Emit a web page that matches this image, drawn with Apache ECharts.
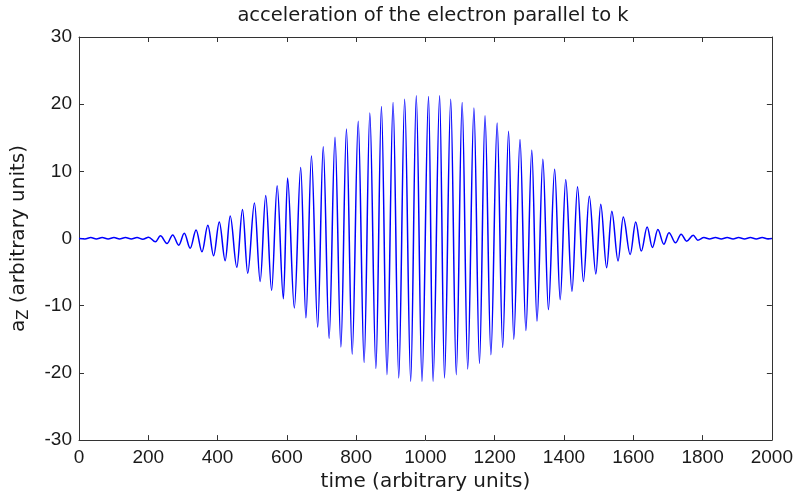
<!DOCTYPE html>
<html><head><meta charset="utf-8">
<script src="https://cdn.jsdelivr.net/npm/echarts@6/dist/echarts.min.js"></script>
<style>html,body{margin:0;padding:0;background:#fff}#c{width:796px;height:497px}</style>
</head><body><div id="c"></div>
<script>
// Extremes of the oscillation (time, value)
const peakTimes = [34, 67, 101, 134, 167.5, 201, 235, 270.5, 304, 338, 372, 405, 436.5, 472, 506.5, 539, 572, 602,
  640, 671, 705, 739, 772, 806, 839.5, 873, 906.6, 940, 973.6, 1009, 1041, 1073, 1106, 1140, 1172, 1207, 1240, 1273,
  1307, 1339, 1373, 1405, 1439, 1473, 1506, 1538, 1571, 1607, 1640, 1671, 1703, 1738, 1773, 1804, 1837, 1871, 1904, 1938, 1972];
const peakValues = [0.15, 0.15, 0.15, 0.15, 0.15, 0.2, 0.4, 0.54, 0.79, 1.28, 1.97, 2.46, 3.34, 4.33, 5.31, 6.39, 7.87, 9.0,
  10.57, 12.29, 13.67, 15.09, 16.32, 17.45, 18.68, 19.67, 20.26, 20.75, 21.24, 21.14, 21.24, 20.75, 20.26, 19.42, 18.29, 17.21, 15.98, 14.75,
  13.13, 11.8, 10.32, 8.8, 7.72, 6.29, 5.11, 4.08, 3.2, 2.46, 1.72, 1.33, 0.88, 0.64, 0.49, 0.15, 0.15, 0.15, 0.15, 0.15, 0.15];
const troughTimes = [17, 50, 84, 117, 151, 184, 220.6, 254, 288, 321, 355, 388.5, 422, 455.6, 487, 523, 556, 590,
  621.6, 655, 689, 722, 756, 788.6, 823, 857, 889, 923, 957.5, 990, 1022, 1055, 1089, 1122, 1156, 1189, 1223, 1255,
  1290, 1322, 1355, 1389, 1423, 1456, 1492, 1523, 1556, 1591, 1623, 1655, 1688, 1722, 1754, 1786, 1820, 1854, 1888, 1921, 1955, 1989];
const troughValues = [-0.05, -0.05, -0.05, -0.05, -0.05, -0.1, -0.49, -0.74, -0.98, -1.43, -1.97, -2.56, -3.29, -4.28, -5.16, -6.39, -7.72, -8.95,
  -10.32, -11.8, -13.18, -14.85, -16.13, -17.2, -18.44, -19.32, -20.26, -20.75, -21.24, -21.24, -21.24, -20.75, -20.26, -19.42, -18.58, -17.3, -16.22, -14.99,
  -13.67, -12.29, -10.57, -9.1, -7.87, -6.39, -5.26, -4.33, -3.34, -2.36, -1.87, -1.33, -0.84, -0.64, -0.39, -0.25, -0.05, -0.05, -0.05, -0.05, -0.05, -0.05];
const startPoint = [0, 0];
const endPoint = [2000, 0];
const xTickLabels = [0, 200, 400, 600, 800, 1000, 1200, 1400, 1600, 1800, 2000];
const yTickLabels = [-30, -20, -10, 0, 10, 20, 30];
const titleText = 'acceleration of the electron parallel to k';
const xName = 'time (arbitrary units)';

const pts = [startPoint];
peakTimes.forEach((t, i) => pts.push([t, peakValues[i]]));
troughTimes.forEach((t, i) => pts.push([t, troughValues[i]]));
pts.push(endPoint);
pts.sort((a, b) => a[0] - b[0]);

const axisColor = '#333';
const font = 'Liberation Sans, Arial, sans-serif';
const font2 = 'DejaVu Sans, sans-serif';
const xMin = xTickLabels[0], xMax = xTickLabels[xTickLabels.length - 1];
const xInt = xTickLabels[1] - xTickLabels[0];
const yMin = yTickLabels[0], yMax = yTickLabels[yTickLabels.length - 1];
const yInt = yTickLabels[1] - yTickLabels[0];

const baseX = {
  type: 'value', min: xMin, max: xMax, interval: xInt,
  axisLine: {show: true, onZero: false, lineStyle: {color: axisColor, width: 1}},
  axisTick: {show: true, inside: true, length: 5, lineStyle: {color: axisColor}},
  splitLine: {show: false}
};
const baseY = {
  type: 'value', min: yMin, max: yMax, interval: yInt,
  axisLine: {show: true, onZero: false, lineStyle: {color: axisColor, width: 1}},
  axisTick: {show: true, inside: true, length: 5, lineStyle: {color: axisColor}},
  splitLine: {show: false}
};

const chart = echarts.init(document.getElementById('c'));
chart.setOption({
  animation: false,
  backgroundColor: '#fff',
  title: {
    text: titleText, left: 428, top: 1, textAlign: 'center',
    textStyle: {fontFamily: font2, fontSize: 19.5, fontWeight: 'normal', color: '#1a1a1a'}
  },
  grid: {left: 79, right: 22, top: 37, bottom: 53, containLabel: false},
  xAxis: [
    Object.assign({}, baseX, {
      position: 'bottom',
      axisLabel: {show: true, margin: 8, fontFamily: font, fontSize: 19, color: '#1a1a1a',
        formatter: v => xTickLabels.includes(v) ? String(v) : ''},
      name: xName, nameLocation: 'middle', nameGap: 30,
      nameTextStyle: {fontFamily: font2, fontSize: 20, color: '#1a1a1a'}
    }),
    Object.assign({}, baseX, {position: 'top', axisLabel: {show: false}})
  ],
  yAxis: [
    Object.assign({}, baseY, {
      position: 'left',
      axisLabel: {show: true, margin: 7, fontFamily: font, fontSize: 19, color: '#1a1a1a',
        formatter: v => yTickLabels.includes(v) ? String(v) : ''},
      name: '{a|a}{s|Z}{a| (arbitrary units)}', nameLocation: 'middle', nameGap: 47,
      nameTextStyle: {
        fontFamily: font2, fontSize: 20, color: '#1a1a1a',
        rich: {
          a: {fontFamily: font2, fontSize: 20, color: '#1a1a1a', lineHeight: 27, verticalAlign: 'middle'},
          s: {fontFamily: font2, fontSize: 15, color: '#1a1a1a', lineHeight: 15, verticalAlign: 'bottom'}
        }
      }
    }),
    Object.assign({}, baseY, {position: 'right', axisLabel: {show: false}})
  ],
  series: [{
    type: 'line', xAxisIndex: 0, yAxisIndex: 0,
    data: pts, showSymbol: false, smooth: 0.35, smoothMonotone: 'x',
    lineStyle: {color: '#0000ff', width: 1.5}
  }]
});
</script>
</body></html>
